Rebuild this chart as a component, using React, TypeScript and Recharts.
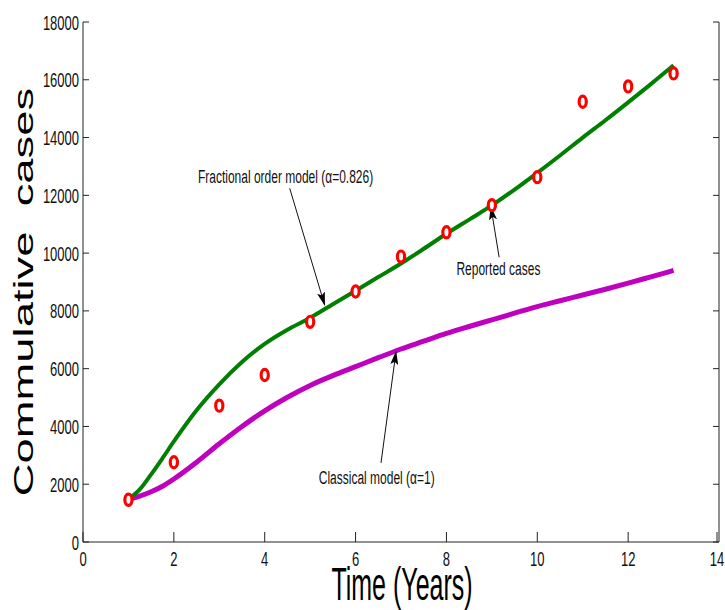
import React from 'react';
import { ComposedChart, Line, Scatter, XAxis, YAxis, ReferenceLine, ReferenceDot } from 'recharts';

// Time (years) sample points for the model curves
const years = [1, 1.25, 1.5, 1.75, 2, 2.5, 3, 3.5, 4, 4.5, 5, 5.5, 6, 6.5, 7, 7.5, 8, 8.5, 9, 9.5, 10, 10.5, 11, 11.5, 12, 12.5, 13];
// Fractional order model (alpha = 0.826)
const fractional = [1480, 1820, 2340, 2900, 3480, 4560, 5460, 6230, 6860, 7350, 7760, 8230, 8700, 9170, 9640, 10150, 10670, 11160, 11650, 12200, 12780, 13380, 14000, 14600, 15220, 15850, 16500];
// Classical model (alpha = 1)
const classical = [1480, 1590, 1740, 1930, 2180, 2760, 3400, 4000, 4540, 5010, 5420, 5760, 6070, 6380, 6680, 6950, 7220, 7460, 7690, 7920, 8150, 8350, 8550, 8750, 8960, 9180, 9400];
// Reported cases
const reportYears = [1, 2, 3, 4, 5, 6, 7, 8, 9, 10, 11, 12, 13];
const reported = [1460, 2760, 4720, 5780, 7620, 8670, 9880, 10720, 11660, 12630, 15240, 15770, 16220];

const xTicks = [0, 2, 4, 6, 8, 10, 12, 14];
const yTicks = [0, 2000, 4000, 6000, 8000, 10000, 12000, 14000, 16000, 18000];

// Annotation texts (data coordinates) and arrows
const noteTexts = ['Fractional order model (\u03b1=0.826)', 'Reported cases', 'Classical model (\u03b1=1)'];
const noteX = [2.53, 8.22, 5.19];
const noteY = [12415, 9236, 2015];
const arrowFromX = [4.55, 9.16, 6.56];
const arrowFromY = [12245, 9858, 2740];
const arrowToX = [5.32, 8.98, 6.89];
const arrowToY = [8200, 11597, 6586];

const fracData = years.map((x, i) => ({ x, y: fractional[i] }));
const classData = years.map((x, i) => ({ x, y: classical[i] }));
const reportData = reportYears.map((x, i) => ({ x, y: reported[i] }));

const FONT = '"Liberation Sans", Arial, sans-serif';
const STRETCH = 1.6;

const LeftTick = (props: any) => {
  const { x, y, payload } = props;
  return (
    <g>
      <line x1={x + 4} y1={y} x2={x + 10} y2={y} stroke="#222" strokeWidth={1} />
      <g transform={`translate(${x},${y + 7.5}) scale(1,${STRETCH})`}>
        <text x={0} y={0} textAnchor="end" fontSize={13} fontFamily={FONT} fill="#111">{payload.value}</text>
      </g>
    </g>
  );
};

const BottomTick = (props: any) => {
  const { x, y, payload } = props;
  return (
    <g>
      <line x1={x} y1={y} x2={x} y2={y - 10} stroke="#222" strokeWidth={1} />
      <g transform={`translate(${x},${y + 24}) scale(1,${STRETCH})`}>
        <text x={0} y={0} textAnchor="middle" fontSize={13} fontFamily={FONT} fill="#111">{payload.value}</text>
      </g>
    </g>
  );
};

const RightTick = (props: any) => {
  const { x, y } = props;
  return <line x1={x} y1={y} x2={x - 6} y2={y} stroke="#222" strokeWidth={1} />;
};

const TopTick = (props: any) => {
  const { x, y } = props;
  return <line x1={x} y1={y} x2={x} y2={y + 10} stroke="#222" strokeWidth={1} />;
};

const RingDot = (props: any) => {
  const { cx, cy } = props;
  if (cx == null || cy == null) return null;
  return <ellipse cx={cx} cy={cy} rx={3.6} ry={5.6} fill="#fff" stroke="#ff0000" strokeWidth={3.2} />;
};

const makeNote = (text: string) => (p: any) => (
  <g transform={`translate(${p.cx},${p.cy}) scale(1,${STRETCH})`}>
    <text x={0} y={0} fontSize={12} fontFamily={FONT} fill="#111">{text}</text>
  </g>
);

const YLabel = () => (
  <g transform={`translate(33,292) rotate(-90) scale(1.62,1)`}>
    <text x={0} y={0} textAnchor="middle" fontSize={28} fontFamily={FONT} fill="#000" style={{ whiteSpace: 'pre' }}>
      {'Commulative  cases'}
    </text>
  </g>
);

const XLabel = () => (
  <g transform={`translate(402,600) scale(1,1.82)`}>
    <text x={0} y={0} textAnchor="middle" fontSize={25} fontFamily={FONT} fill="#000">Time (Years)</text>
  </g>
);

export default function App() {
  return (
    <div style={{ position: 'absolute', left: 0, top: 0, width: 725, height: 610, background: '#fff' }}>
      <ComposedChart width={725} height={610} margin={{ top: 22, right: 0, bottom: 0, left: 0 }}>
        <defs>
          <marker id="arrowHead" viewBox="0 0 14 8" markerWidth={14} markerHeight={8} refX={13} refY={4} orient="auto" markerUnits="userSpaceOnUse">
            <path d="M0,0 L14,4 L0,8 L3,4 Z" fill="#000" />
          </marker>
        </defs>
        <XAxis xAxisId="b" dataKey="x" type="number" domain={[0, 14]} ticks={xTicks} orientation="bottom" height={68}
          tickSize={0} tickMargin={0} tickLine={false} axisLine={{ stroke: '#222' }} tick={<BottomTick />} allowDataOverflow />
        <XAxis xAxisId="t" dataKey="x" type="number" domain={[0, 14]} ticks={xTicks} orientation="top" height={0}
          tickSize={0} tickMargin={0} tickLine={false} axisLine={{ stroke: '#222' }} tick={<TopTick />} allowDataOverflow />
        <YAxis yAxisId="l" type="number" domain={[0, 18000]} ticks={yTicks} orientation="left" width={83}
          tickSize={0} tickMargin={4} tickLine={false} axisLine={{ stroke: '#222' }} tick={<LeftTick />} allowDataOverflow />
        <YAxis yAxisId="r" type="number" domain={[0, 18000]} ticks={yTicks} orientation="right" width={6}
          tickSize={0} tickMargin={0} tickLine={false} axisLine={{ stroke: '#222' }} tick={<RightTick />} allowDataOverflow />
        <Line xAxisId="b" yAxisId="l" data={classData} dataKey="y" type="monotone" stroke="#bf00bf" strokeWidth={5}
          dot={false} activeDot={false} isAnimationActive={false} />
        <Line xAxisId="b" yAxisId="l" data={fracData} dataKey="y" type="monotone" stroke="#008000" strokeWidth={4}
          dot={false} activeDot={false} isAnimationActive={false} />
        <Scatter xAxisId="b" yAxisId="l" data={reportData} dataKey="y" shape={<RingDot />} isAnimationActive={false} />
        {noteTexts.map((t, i) => (
          <ReferenceLine key={'a' + i} xAxisId="b" yAxisId="l"
            segment={[{ x: arrowFromX[i], y: arrowFromY[i] }, { x: arrowToX[i], y: arrowToY[i] }]}
            stroke="#111" strokeWidth={1} markerEnd="url(#arrowHead)" ifOverflow="visible" />
        ))}
        {noteTexts.map((t, i) => (
          <ReferenceDot key={'n' + i} xAxisId="b" yAxisId="l" x={noteX[i]} y={noteY[i]} r={0}
            shape={makeNote(t)} ifOverflow="visible" />
        ))}
        <YLabel />
        <XLabel />
      </ComposedChart>
    </div>
  );
}
